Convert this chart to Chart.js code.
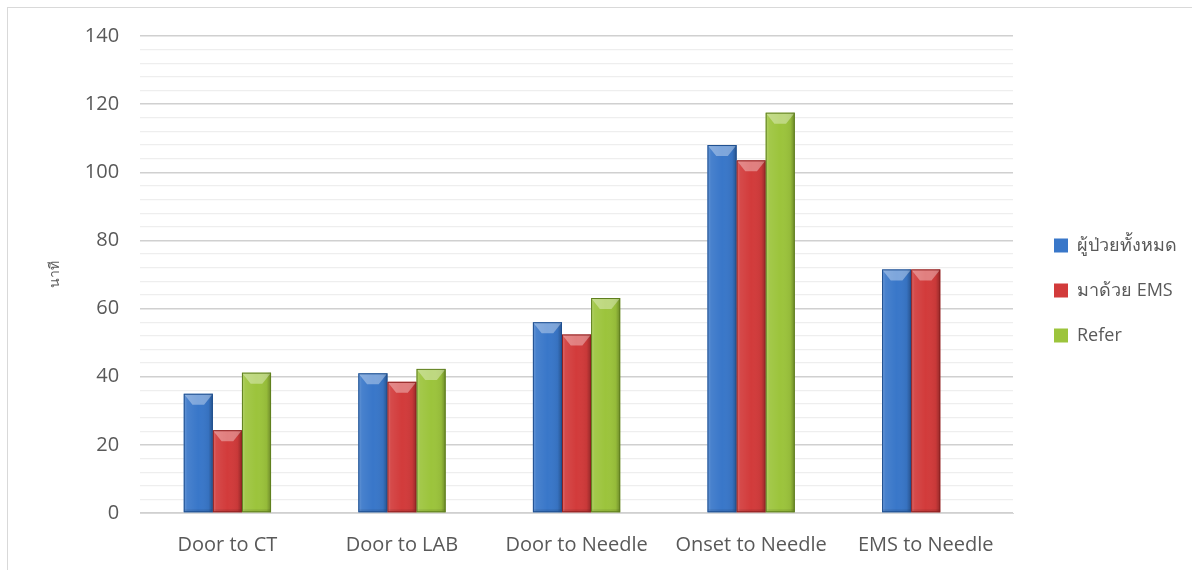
<!DOCTYPE html>
<html>
<head>
<meta charset="utf-8">
<script src="https://cdn.jsdelivr.net/npm/chart.js@4.4.1/dist/chart.umd.min.js"></script>
<style>
  html, body { margin: 0; padding: 0; background: #ffffff; }
  #frame { position: absolute; left: 7px; top: 7px; width: 1300px; height: 700px;
           border-left: 1px solid #d9d9d9; border-top: 1px solid #d9d9d9; }
  #wrap { position: absolute; left: 0; top: 0; width: 1192px; height: 570px; }
</style>
</head>
<body>
<div id="frame"></div>
<div id="wrap"><canvas id="chart"></canvas></div>
<script>
// Time intervals (minutes) for stroke fast-track steps
const categories = ['Door to CT', 'Door to LAB', 'Door to Needle', 'Onset to Needle', 'EMS to Needle'];
const allPatients = [35, 41, 56, 108, 71.5];
const viaEms = [24.3, 38.5, 52.4, 103.5, 71.5];
const referred = [41.2, 42.3, 63.1, 117.5, null];
const seriesNames = ['ผู้ป่วยทั้งหมด', 'มาด้วย EMS', 'Refer'];
const yTickStep = 4;
const yMajorStep = 20;
const yMax = 140;

const palette = [
  { fill: '#3977c9', edge: '#1f4f8f' },
  { fill: '#d23b3b', edge: '#8e2121' },
  { fill: '#9cc43c', edge: '#5f7f1f' }
];

// Bevelled look for each bar: light left edge, dark right edge, V-shaped cap on top
const bevelPlugin = {
  id: 'bevel',
  afterDatasetsDraw(chart) {
    const ctx = chart.ctx;
    chart.data.datasets.forEach((ds, di) => {
      const meta = chart.getDatasetMeta(di);
      meta.data.forEach((bar, i) => {
        if (ds.data[i] == null) return;
        const w = bar.width, left = bar.x - w / 2, right = bar.x + w / 2;
        const top = bar.y, bottom = bar.base;
        ctx.save();
        const g = ctx.createLinearGradient(left, 0, right, 0);
        g.addColorStop(0, 'rgba(255,255,255,0.25)');
        g.addColorStop(0.12, 'rgba(255,255,255,0.08)');
        g.addColorStop(0.5, 'rgba(255,255,255,0)');
        g.addColorStop(0.85, 'rgba(0,0,0,0.05)');
        g.addColorStop(1, 'rgba(0,0,0,0.3)');
        ctx.fillStyle = g;
        ctx.fillRect(left, top, w, bottom - top);
        const d = Math.min(11, (bottom - top) / 2);
        ctx.beginPath();
        ctx.moveTo(left, top);
        ctx.lineTo(right, top);
        ctx.lineTo(right - w * 0.3, top + d);
        ctx.lineTo(left + w * 0.3, top + d);
        ctx.closePath();
        ctx.fillStyle = 'rgba(255,255,255,0.35)';
        ctx.fill();
        ctx.fillStyle = 'rgba(0,0,0,0.08)';
        ctx.fillRect(left, bottom - 3, w, 3);
        ctx.strokeStyle = palette[di].edge;
        ctx.lineWidth = 1;
        ctx.strokeRect(left + 0.5, top + 0.5, w - 1, bottom - top - 1);
        ctx.restore();
      });
    });
  }
};

// Lift the legend block a little above the vertical centre
const legendLift = {
  id: 'legendLift',
  afterLayout(chart) {
    const lg = chart.legend;
    if (!lg) return;
    lg.top -= 12;
    lg.bottom -= 12;
  }
};

const seriesData = [allPatients, viaEms, referred];

new Chart(document.getElementById('chart'), {
  type: 'bar',
  data: {
    labels: categories,
    datasets: seriesData.map((vals, k) => ({
      label: seriesNames[k],
      data: vals,
      backgroundColor: palette[k].fill,
      borderColor: palette[k].edge,
      borderWidth: 0,
      categoryPercentage: 0.5,
      barPercentage: 1.0
    }))
  },
  options: {
    responsive: true,
    maintainAspectRatio: false,
    animation: false,
    layout: { padding: { left: 47, right: 5, top: 36, bottom: 1 } },
    plugins: {
      tooltip: { enabled: false },
      legend: {
        position: 'right',
        align: 'center',
        labels: {
          color: '#595959',
          font: { family: "'Open Sans', 'Noto Sans', sans-serif", size: 18 },
          boxWidth: 14,
          boxHeight: 14,
          padding: 27
        }
      }
    },
    scales: {
      x: {
        grid: { display: false },
        border: { color: '#d9d9d9', width: 1 },
        ticks: {
          color: '#595959',
          font: { family: "'Open Sans', sans-serif", size: 20 },
          padding: 12
        }
      },
      y: {
        min: 0,
        max: yMax,
        border: { display: false },
        grid: {
          drawTicks: false,
          color: c => (c.tick.value % yMajorStep === 0 ? '#d0d0d0' : '#eeeeee'),
          lineWidth: c => (c.tick.value % yMajorStep === 0 ? 1.5 : 1.2)
        },
        ticks: {
          stepSize: yTickStep,
          autoSkip: false,
          padding: 21,
          color: '#595959',
          font: { family: "'Open Sans', sans-serif", size: 20 },
          callback: v => (v % yMajorStep === 0 ? v : '')
        },
        title: {
          display: true,
          text: 'นาที',
          color: '#595959',
          font: { family: "'Noto Sans', sans-serif", size: 14 },
          padding: { top: 0, bottom: 0 }
        }
      },
      // empty right-hand margin between the plot and the legend
      gap: {
        position: 'right',
        display: true,
        grid: { display: false },
        border: { display: false },
        ticks: { display: false },
        afterFit: s => { s.width = 14; }
      }
    }
  },
  plugins: [bevelPlugin, legendLift]
});
</script>
</body>
</html>
